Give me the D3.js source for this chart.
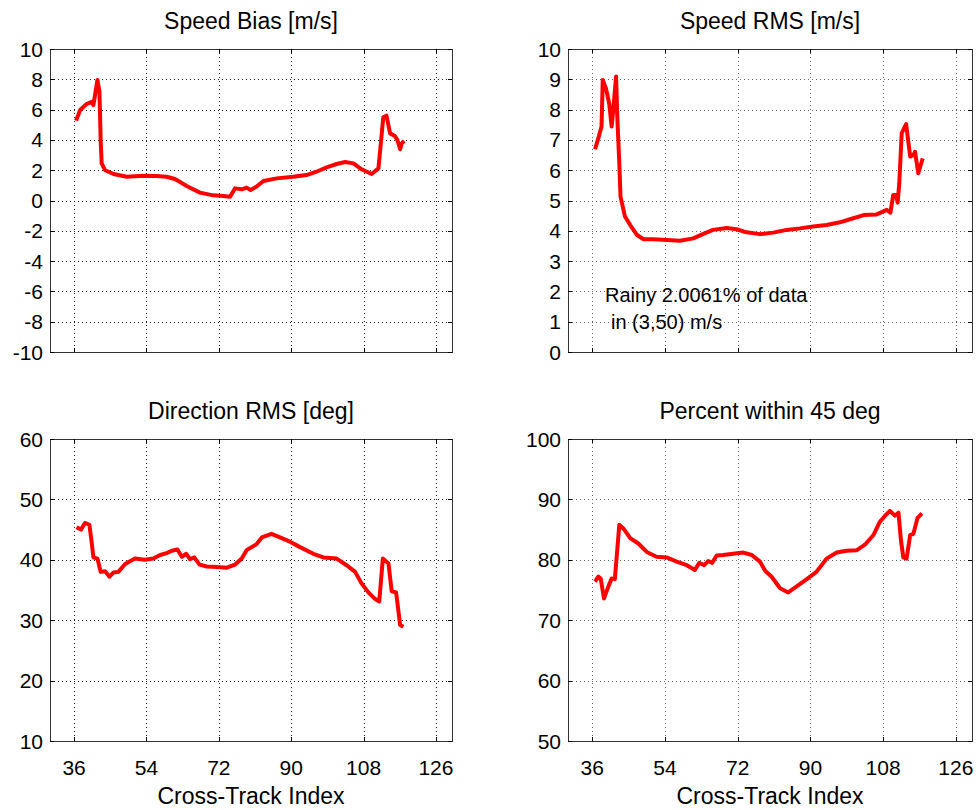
<!DOCTYPE html>
<html>
<head>
<meta charset="utf-8">
<script src="https://cdn.jsdelivr.net/npm/d3@7"></script>
<style>
  body { margin: 0; background: #fff; }
  svg text { font-family: "Liberation Sans", Arial, sans-serif; fill: #000; }
</style>
</head>
<body>
<script>
// x ticks shared by all four panels
var xTicks = [36, 54, 72, 90, 108, 126];

// Speed Bias [m/s]
var biasIdx = [36.5, 37.5, 39.1, 40.4, 40.8, 41.8, 42.3, 42.6, 42.85, 43.7, 45.8, 49.1, 53.2, 56.5, 59, 61.1, 64, 67.3, 70.6, 73.1, 74.8, 76, 77.7, 78.9, 79.9, 81.4, 83.1, 86.4, 90.5, 93.8, 96.3, 98.8, 101.3, 103.4, 105.5, 107.5, 110, 111.7, 112.3, 112.9, 113.7, 114.6, 115.8, 116.4, 117.1, 117.5, 118.1];
var biasVal = [5.27, 5.97, 6.37, 6.52, 6.3, 7.95, 7.2, 4.0, 2.45, 2.0, 1.75, 1.57, 1.64, 1.62, 1.57, 1.42, 0.96, 0.52, 0.34, 0.3, 0.25, 0.8, 0.74, 0.85, 0.7, 0.92, 1.29, 1.46, 1.57, 1.68, 1.9, 2.19, 2.41, 2.54, 2.45, 2.06, 1.75, 2.12, 3.77, 5.49, 5.6, 4.43, 4.26, 4.0, 3.38, 3.77, 3.93];
var biasTicks = [-10, -8, -6, -4, -2, 0, 2, 4, 6, 8, 10];

// Speed RMS [m/s]
var rmsIdx = [36.7, 37.5, 38.3, 38.6, 39.4, 40.2, 40.8, 41.2, 41.9, 42.2, 42.7, 43.0, 44.1, 45.4, 47.1, 48.7, 51.1, 54.5, 57.7, 61, 63.5, 65.9, 69.3, 71.7, 74.2, 77.5, 80.8, 84.1, 87.4, 90.7, 94.0, 97.3, 99.8, 103.2, 106.4, 108.9, 109.8, 110.5, 111.2, 111.6, 112.0, 112.6, 113.7, 114.7, 115.5, 115.9, 116.7, 117.8];
var rmsVal = [6.69, 7.05, 7.44, 8.98, 8.7, 8.2, 7.44, 7.99, 9.09, 7.77, 6.23, 5.13, 4.47, 4.19, 3.86, 3.72, 3.72, 3.7, 3.67, 3.75, 3.9, 4.03, 4.09, 4.05, 3.95, 3.89, 3.94, 4.03, 4.08, 4.14, 4.19, 4.28, 4.38, 4.52, 4.54, 4.69, 4.6, 5.18, 5.18, 4.93, 5.57, 7.22, 7.52, 6.45, 6.5, 6.61, 5.9, 6.39];
var rmsTicks = [0, 1, 2, 3, 4, 5, 6, 7, 8, 9, 10];

// Direction RMS [deg]
var dirIdx = [36.6, 37.7, 38.7, 39.8, 40.4, 40.8, 41.8, 42.6, 43.7, 44.8, 45.8, 47.0, 48.7, 51.1, 53.6, 55.7, 57.4, 59.0, 60.3, 61.7, 62.8, 63.9, 64.8, 65.9, 67.2, 69.0, 71.5, 74.0, 76.0, 77.7, 78.9, 81.4, 82.7, 85.1, 87.2, 89.7, 92.2, 95.5, 98.0, 101.3, 103.8, 105.9, 107.5, 109.2, 110.9, 111.9, 112.8, 114.2, 115.0, 116.1, 117.1, 117.9];
var dirVal = [45.4, 45.0, 46.1, 45.8, 42.7, 40.4, 40.2, 38.0, 38.1, 37.2, 37.9, 38.0, 39.3, 40.2, 40.0, 40.2, 40.8, 41.1, 41.5, 41.7, 40.5, 41.0, 40.1, 40.4, 39.2, 38.9, 38.8, 38.7, 39.2, 40.2, 41.6, 42.6, 43.7, 44.3, 43.7, 43.0, 42.1, 41.0, 40.4, 40.2, 39.1, 38.0, 36.1, 34.6, 33.5, 33.1, 40.2, 39.4, 34.8, 34.6, 29.2, 28.9];
var dirTicks = [10, 20, 30, 40, 50, 60];

// Percent within 45 deg
var pctIdx = [36.7, 37.5, 38.1, 38.9, 40.0, 40.8, 41.6, 42.7, 43.7, 45.4, 47.4, 49.5, 51.9, 54.4, 56.9, 59.4, 61.4, 62.5, 63.7, 64.7, 65.7, 66.8, 68.4, 70.9, 73.4, 75.5, 77.5, 78.8, 80.4, 82.5, 84.5, 86.6, 89.1, 91.5, 94.0, 96.5, 98.9, 101.5, 103.5, 105.6, 107.2, 108.5, 109.7, 110.9, 111.8, 112.4, 113.0, 113.8, 114.7, 115.5, 116.5, 117.6];
var pctVal = [76.4, 77.2, 76.9, 73.6, 75.6, 76.9, 76.8, 85.8, 85.2, 83.6, 82.7, 81.3, 80.5, 80.4, 79.7, 79.1, 78.3, 79.5, 79.1, 79.8, 79.5, 80.7, 80.8, 81.0, 81.2, 80.8, 79.7, 78.2, 77.2, 75.3, 74.6, 75.6, 76.8, 78.0, 80.2, 81.2, 81.5, 81.6, 82.5, 84.1, 86.3, 87.3, 88.1, 87.3, 87.8, 83.3, 80.4, 80.2, 84.1, 84.3, 86.9, 87.7];
var pctTicks = [50, 60, 70, 80, 90, 100];

var width = 977;
var height = 810;

var svg = d3.select("body").append("svg")
    .attr("width", width)
    .attr("height", height);

var panels = [
  {title: "Speed Bias [m/s]", xs: biasIdx, ys: biasVal, ticks: biasTicks, left: 50, right: 452, top: 49, bottom: 352, xlab: false, grid: "#222"},
  {title: "Speed RMS [m/s]", xs: rmsIdx, ys: rmsVal, ticks: rmsTicks, left: 568, right: 972, top: 49, bottom: 352, xlab: false, grid: "#666"},
  {title: "Direction RMS [deg]", xs: dirIdx, ys: dirVal, ticks: dirTicks, left: 50, right: 452, top: 439, bottom: 741, xlab: true, grid: "#222"},
  {title: "Percent within 45 deg", xs: pctIdx, ys: pctVal, ticks: pctTicks, left: 568, right: 972, top: 439, bottom: 741, xlab: true, grid: "#666"}
];

panels.forEach(function(p, i) {
  var x = d3.scaleLinear().domain([30, 130]).range([p.left, p.right]);
  var y = d3.scaleLinear().domain(d3.extent(p.ticks)).range([p.bottom, p.top]);
  var g = svg.append("g");

  // dotted grid
  g.selectAll(".vgrid").data(xTicks).enter().append("line")
      .attr("x1", d => Math.round(x(d)) + 0.5).attr("x2", d => Math.round(x(d)) + 0.5)
      .attr("y1", p.top).attr("y2", p.bottom)
      .attr("stroke", p.grid).attr("stroke-dasharray", "1,3");
  g.selectAll(".hgrid").data(p.ticks.slice(1, -1)).enter().append("line")
      .attr("x1", p.left).attr("x2", p.right)
      .attr("y1", d => Math.round(y(d)) + 0.5).attr("y2", d => Math.round(y(d)) + 0.5)
      .attr("stroke", p.grid).attr("stroke-dasharray", "1,3");

  // box
  g.append("rect")
      .attr("x", p.left + 0.5).attr("y", p.top + 0.5)
      .attr("width", p.right - p.left).attr("height", p.bottom - p.top)
      .attr("fill", "none").attr("stroke", "#333");

  // inward ticks on all four sides
  var tl = 4;
  xTicks.forEach(function(t) {
    var xx = Math.round(x(t)) + 0.5;
    g.append("line").attr("x1", xx).attr("x2", xx).attr("y1", p.bottom).attr("y2", p.bottom - tl).attr("stroke", "#000");
    g.append("line").attr("x1", xx).attr("x2", xx).attr("y1", p.top).attr("y2", p.top + tl).attr("stroke", "#000");
  });
  p.ticks.forEach(function(t) {
    var yy = Math.round(y(t)) + 0.5;
    g.append("line").attr("x1", p.left).attr("x2", p.left + tl).attr("y1", yy).attr("y2", yy).attr("stroke", "#000");
    g.append("line").attr("x1", p.right).attr("x2", p.right - tl).attr("y1", yy).attr("y2", yy).attr("stroke", "#000");
  });

  // y tick labels
  g.selectAll(".ylab").data(p.ticks).enter().append("text")
      .attr("x", p.left - 7).attr("y", d => y(d)).attr("dy", "0.36em")
      .attr("text-anchor", "end").attr("font-size", 21)
      .text(d => d);

  // x tick labels
  if (p.xlab) {
    g.selectAll(".xlab").data(xTicks).enter().append("text")
        .attr("x", d => x(d)).attr("y", p.bottom + 34)
        .attr("text-anchor", "middle").attr("font-size", 21)
        .text(d => d);
    g.append("text")
        .attr("x", (p.left + p.right) / 2).attr("y", p.bottom + 63)
        .attr("text-anchor", "middle").attr("font-size", 23)
        .text("Cross-Track Index");
  }

  // title
  g.append("text")
      .attr("x", (p.left + p.right) / 2).attr("y", p.top - 20)
      .attr("text-anchor", "middle").attr("font-size", 23)
      .text(p.title);

  // data line
  var line = d3.line().x(d => x(d[0])).y(d => y(d[1]));
  g.append("path")
      .datum(d3.zip(p.xs, p.ys))
      .attr("d", line)
      .attr("fill", "none")
      .attr("stroke", "#ff0000")
      .attr("stroke-width", 4)
      .attr("stroke-linejoin", "round");

  if (i === 1) {
    g.append("text").attr("x", 605).attr("y", 302).attr("font-size", 20).text("Rainy 2.0061% of data");
    g.append("text").attr("x", 611).attr("y", 329).attr("font-size", 20).text("in (3,50) m/s");
  }
});
</script>
</body>
</html>
